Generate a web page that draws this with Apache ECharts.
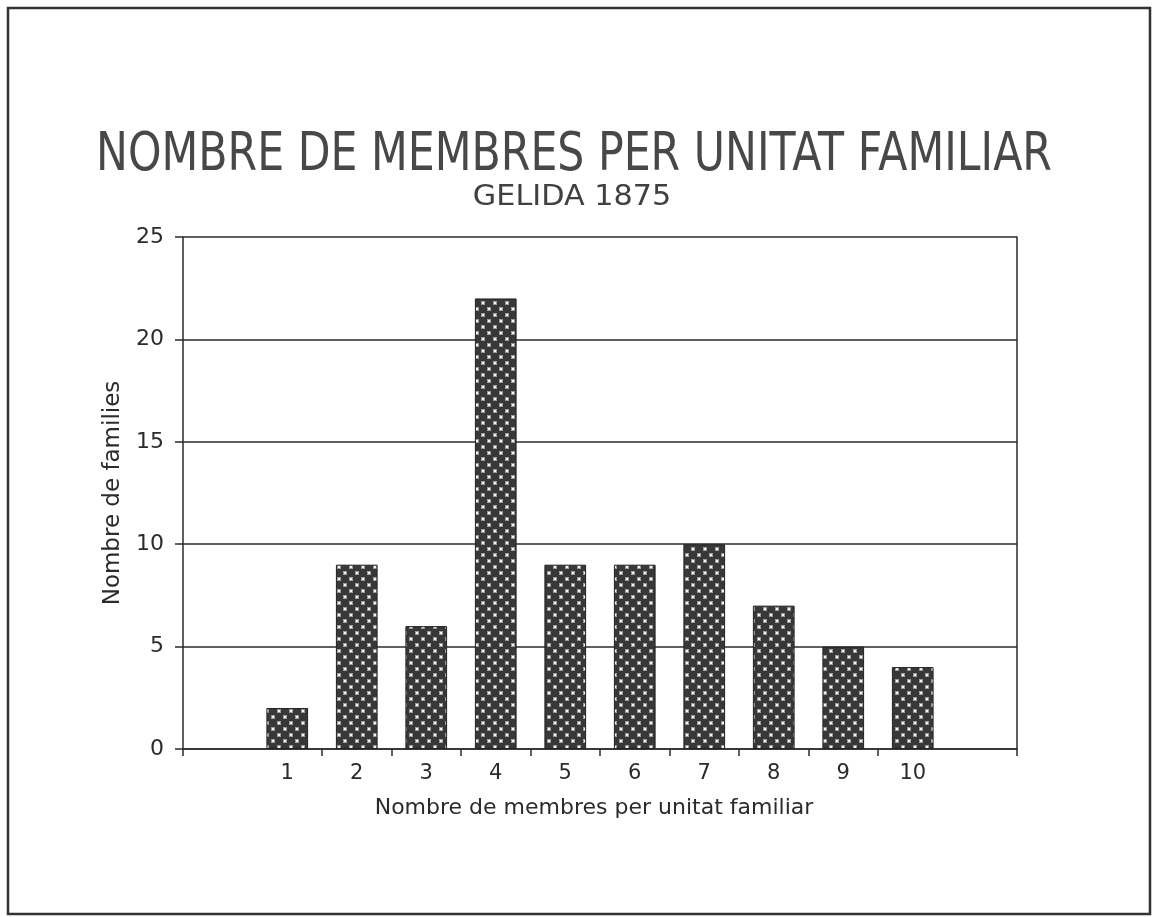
<!DOCTYPE html>
<html>
<head>
<meta charset="utf-8">
<script src="https://cdn.jsdelivr.net/npm/echarts@6/dist/echarts.min.js"></script>
<style>
html,body{margin:0;padding:0;background:#fff;}
#c{width:1155px;height:917px;}
</style>
</head>
<body>
<div id="c"></div>
<script>
const titleText = 'NOMBRE DE MEMBRES PER UNITAT FAMILIAR';
const subtitleText = 'GELIDA 1875';
const categories = ['', '1', '2', '3', '4', '5', '6', '7', '8', '9', '10', ''];
const families = ['-', 2, 9, 6, 22, 9, 9, 10, 7, 5, 4, '-'];
const yTicks = { min: 0, max: 25, interval: 5 };
const xName = 'Nombre de membres per unitat familiar';
const yName = 'Nombre de families';

function makePattern() {
  const n = 12;
  const c = document.createElement('canvas');
  c.width = n; c.height = n;
  const g = c.getContext('2d');
  g.fillStyle = '#383838';
  g.fillRect(0, 0, n, n);
  function dot(x, y) {
    g.fillStyle = '#9a9a9a';
    g.fillRect(x - 1, y - 1, 4, 4);
    g.fillStyle = '#f4f4f4';
    g.fillRect(x, y, 2, 2);
  }
  dot(2, 2);
  dot(8, 8);
  return c;
}

const chart = echarts.init(document.getElementById('c'), null, { renderer: 'canvas' });
const ink = '#2b2b2b';
const font = '"DejaVu Sans", sans-serif';

chart.setOption({
  backgroundColor: '#fff',
  animation: false,
  graphic: [{
    type: 'rect', shape: { x: 8, y: 8, width: 1142, height: 906 },
    style: { fill: null, stroke: '#333', lineWidth: 2.5 }, silent: true, z: -1
  }, {
    type: 'text', x: 574, y: 130, scaleX: 1.04, scaleY: 1.28,
    style: { text: titleText, align: 'center', verticalAlign: 'top',
      font: 'normal 41px ' + font, fill: '#484848' }
  }, {
    type: 'text', x: 572, y: 183, scaleX: 1.12, scaleY: 1.05,
    style: { text: subtitleText, align: 'center', verticalAlign: 'top',
      font: 'normal 27px ' + font, fill: '#404040' }
  }],
  grid: { left: 183, right: 138, top: 237, bottom: 168 },
  xAxis: {
    type: 'category', data: categories, boundaryGap: true,
    name: xName, nameLocation: 'middle', nameGap: 48,
    nameTextStyle: { fontFamily: font, fontSize: 22, color: ink, padding: [0, 12, 0, 0] },
    axisLine: { show: true, lineStyle: { color: ink, width: 1.5 } },
    axisTick: { show: true, length: 7, lineStyle: { color: ink, width: 1.5 },
      interval: function (i) { return i !== 1 && i !== 11; } },
    axisLabel: { fontFamily: font, fontSize: 21, color: ink, margin: 14 },
    splitLine: { show: false }
  },
  yAxis: [{
    type: 'value', min: yTicks.min, max: yTicks.max, interval: yTicks.interval,
    name: yName, nameLocation: 'middle', nameGap: 58, nameRotate: 90,
    nameTextStyle: { fontFamily: font, fontSize: 23, color: ink },
    axisLine: { show: true, lineStyle: { color: ink, width: 1.5 } },
    axisTick: { show: true, length: 8, lineStyle: { color: ink, width: 1.5 } },
    axisLabel: { fontFamily: font, fontSize: 22, color: ink, margin: 19 },
    splitLine: { show: true, lineStyle: { color: ink, width: 1.5 } }
  }, {
    type: 'value', min: yTicks.min, max: yTicks.max, interval: yTicks.interval,
    position: 'right',
    axisLine: { show: true, lineStyle: { color: ink, width: 1.5 } },
    axisTick: { show: false }, axisLabel: { show: false }, splitLine: { show: false }
  }],
  series: [{
    type: 'bar', data: families, barWidth: '60%', yAxisIndex: 0,
    itemStyle: {
      color: { image: makePattern(), repeat: 'repeat' },
      borderColor: '#222', borderWidth: 1
    }
  }]
});
</script>
</body>
</html>
